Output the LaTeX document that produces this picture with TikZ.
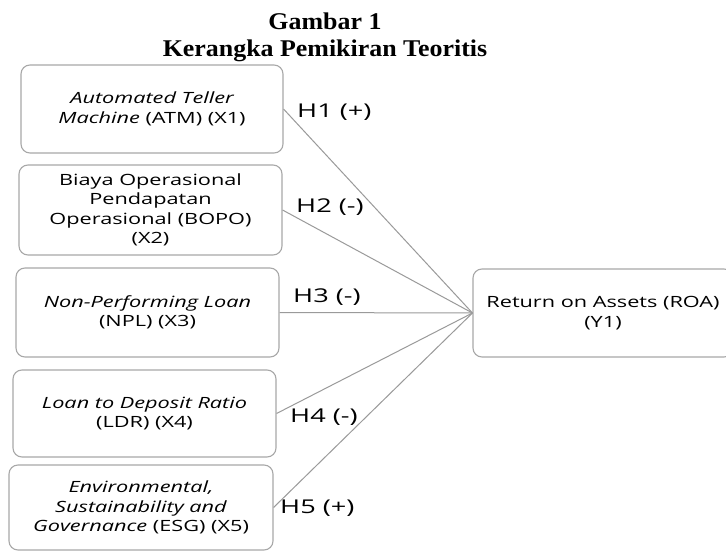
\documentclass[tikz,border=0pt]{standalone}
\usepackage{fontspec}
\newfontfamily\boxfont{Open Sans}[FakeStretch=1.4]
\newfontfamily\labfont{Open Sans}[FakeStretch=1.43]
\newfontfamily\titlefont{Liberation Serif}[FakeStretch=1.08]
\definecolor{boxgray}{HTML}{A8A8A8}
\definecolor{linegray}{HTML}{9A9A9A}
\begin{document}
\begin{tikzpicture}[x=1pt,y=-1pt,
  box/.style={draw=boxgray, line width=1.1pt, rounded corners=9pt, align=center, inner sep=0pt,
    font=\boxfont\fontsize{15.5}{19.5}\selectfont},
  link/.style={draw=linegray, line width=1pt},
  hlabel/.style={anchor=west, inner sep=0pt, font=\labfont\fontsize{19}{21}\selectfont},
  title/.style={anchor=base, inner sep=0pt, font=\titlefont\bfseries\fontsize{24}{28}\selectfont}]
\useasboundingbox (0,0) rectangle (726,552);
\clip (0,0) rectangle (726,552);
\fill[white] (0,0) rectangle (726,552);

\node[title] (t1) at (325,29) {Gambar 1};
\node[title] (t2) at (325,56) {Kerangka Pemikiran Teoritis};

\node[box, minimum width=262pt, minimum height=88pt] (x1) at (152,109)
  {\itshape Automated Teller\\ \itshape Machine\upshape{} (ATM) (X1)};
\node[box, minimum width=263pt, minimum height=90pt] (x2) at (150.5,210)
  {Biaya Operasional\\ Pendapatan\\ Operasional (BOPO)\\ (X2)};
\node[box, minimum width=263pt, minimum height=89pt] (x3) at (147.5,312.5)
  {\itshape Non-Performing Loan\\ (NPL) (X3)};
\node[box, minimum width=263pt, minimum height=87pt] (x4) at (144.5,413.5)
  {\itshape Loan to Deposit Ratio\\ (LDR) (X4)};
\node[box, minimum width=264pt, minimum height=85pt] (x5) at (141,507.5)
  {\itshape Environmental,\\ \itshape Sustainability and\\ \itshape Governance\upshape{} (ESG) (X5)};
\node[box, minimum width=260pt, minimum height=88pt] (y1) at (603,313)
  {Return on Assets (ROA)\\ (Y1)};

\draw[link] (x1.east) -- (y1.west);
\draw[link] (x2.east) -- (y1.west);
\draw[link] (x3.east) -- (y1.west);
\draw[link] (x4.east) -- (y1.west);
\draw[link] (x5.east) -- (y1.west);

\node[hlabel] (h1) at (297,112) {H1 (+)};
\node[hlabel] (h2) at (296,207) {H2 (-)};
\node[hlabel] (h3) at (293,297) {H3 (-)};
\node[hlabel] (h4) at (290,417) {H4 (-)};
\node[hlabel] (h5) at (280,508) {H5 (+)};
\end{tikzpicture}
\end{document}
